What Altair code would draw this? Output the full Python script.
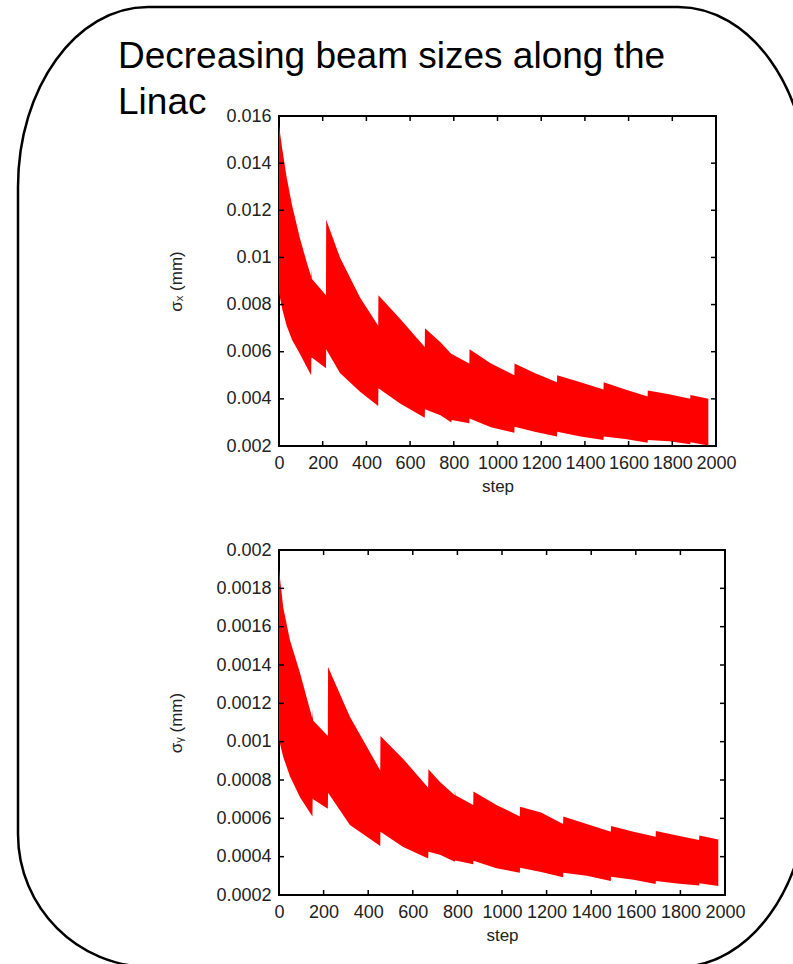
import altair as alt
import pandas as pd

# ---------------- data ----------------
title_lines = ["Decreasing beam sizes along the", "Linac"]

x_ticks = [0, 200, 400, 600, 800, 1000, 1200, 1400, 1600, 1800, 2000]

sx_steps = [0, 15, 35, 60, 96, 130, 147, 148, 150, 215, 216, 279, 371, 454, 455, 554,
            667, 668, 739, 789, 790, 871, 872, 970, 1077, 1078, 1170, 1272, 1273, 1380,
            1485, 1486, 1585, 1687, 1688, 1785, 1882, 1883, 1965]
sx_upper = [0.0156, 0.0146, 0.0134, 0.0122, 0.0108, 0.0097, 0.0092, 0.0095, 0.0091, 0.0084,
            0.0116, 0.0100, 0.0083, 0.0071, 0.0084, 0.0074, 0.0062, 0.0070, 0.0064, 0.0059,
            0.0059, 0.0055, 0.0061, 0.0055, 0.0050, 0.0055, 0.0051, 0.0047, 0.0050, 0.0047,
            0.0044, 0.0047, 0.0044, 0.0041, 0.00435, 0.0042, 0.0040, 0.00416, 0.0040]
sx_lower = [0.0085, 0.0078, 0.0071, 0.0065, 0.0059, 0.0053, 0.0050, 0.0057, 0.00575, 0.0053,
            0.0061, 0.0051, 0.0043, 0.0037, 0.00445, 0.0038, 0.0032, 0.00356, 0.0033, 0.0030,
            0.0031, 0.00296, 0.00317, 0.0028, 0.00256, 0.00282, 0.0026, 0.0024, 0.0026, 0.0024,
            0.00225, 0.0024, 0.0023, 0.00214, 0.00225, 0.0022, 0.00207, 0.00216, 0.00202]
sx_yticks = [0.002, 0.004, 0.006, 0.008, 0.01, 0.012, 0.014, 0.016]

sy_steps = [0, 19, 49, 94, 150, 151, 153, 219, 220, 318, 454, 455, 557, 669, 670, 722, 788,
            789, 791, 871, 872, 975, 1080, 1081, 1175, 1274, 1275, 1380, 1488, 1489, 1590,
            1689, 1690, 1785, 1884, 1885, 1970]
sy_upper = [0.00190, 0.00170, 0.00153, 0.00136, 0.00112, 0.00117, 0.00111, 0.00103, 0.00139,
            0.00113, 0.00085, 0.00103, 0.00091, 0.00076, 0.000856, 0.00079, 0.00072, 0.00075,
            0.00072, 0.00067, 0.00074, 0.00067, 0.00061, 0.00066, 0.00063, 0.00057, 0.00061,
            0.00057, 0.00053, 0.00056, 0.00053, 0.000504, 0.000534, 0.00051, 0.000487,
            0.00051, 0.00049]
sy_lower = [0.00101, 0.00092, 0.00082, 0.00071, 0.00061, 0.000705, 0.0007, 0.00065, 0.000734,
            0.000565, 0.000456, 0.00053, 0.00045, 0.00039, 0.000426, 0.00041, 0.000374,
            0.00038, 0.00038, 0.00036, 0.000379, 0.00034, 0.000316, 0.000342, 0.00032,
            0.000292, 0.000316, 0.0003, 0.000273, 0.000295, 0.00028, 0.000257, 0.000273,
            0.00026, 0.000249, 0.000261, 0.000247]
sy_yticks = [0.0002, 0.0004, 0.0006, 0.0008, 0.001, 0.0012, 0.0014, 0.0016, 0.0018, 0.002]

FONT = "Liberation Sans"
RED = "#ff0000"

# rounded slide frame (decoration), pixels relative to the top plot's origin;
# its right and bottom sides run past the page and are cut off there
frame_path = ("M -131 -109 L 399 -109 A 130 180 0 0 1 529 71 L 529 671 "
              "A 130 180 0 0 1 399 851 L -128 851 A 133 133 0 0 1 -261 718 "
              "L -261 71 A 130 180 0 0 1 -131 -109 Z")


def panel(steps, upper, lower, yticks, ytitle, W, H, title_pad):
    df = pd.DataFrame({"step": steps, "upper": upper, "lower": lower})
    xs = alt.Scale(domain=[x_ticks[0], x_ticks[-1]], nice=False, zero=False)
    ys = alt.Scale(domain=[yticks[0], yticks[-1]], nice=False, zero=False)
    xax = alt.Axis(values=x_ticks, format="d", title="step", labelPadding=8,
                   titlePadding=6, titleFontSize=17, labelFlush=False)
    yax = alt.Axis(values=yticks, format="~g", title=ytitle, labelPadding=8,
                   titlePadding=title_pad, titleFontSize=17)
    area = alt.Chart(df).mark_area(color=RED, interpolate="linear", opacity=1).encode(
        x=alt.X("step:Q", scale=xs, axis=xax),
        y=alt.Y("upper:Q", scale=ys, axis=yax),
        y2="lower:Q",
    )
    xt = pd.DataFrame({"step": x_ticks[1:-1]})
    yt = pd.DataFrame({"upper": yticks[1:-1]})
    rk = dict(color="black", strokeWidth=1.5)
    tb = alt.Chart(xt).mark_rule(**rk).encode(
        x=alt.X("step:Q", scale=xs, axis=xax), y=alt.value(H), y2=alt.value(H - 5))
    tt = alt.Chart(xt).mark_rule(**rk).encode(
        x=alt.X("step:Q", scale=xs, axis=xax), y=alt.value(0), y2=alt.value(5))
    tl = alt.Chart(yt).mark_rule(**rk).encode(
        y=alt.Y("upper:Q", scale=ys, axis=yax), x=alt.value(0), x2=alt.value(5))
    tr = alt.Chart(yt).mark_rule(**rk).encode(
        y=alt.Y("upper:Q", scale=ys, axis=yax), x=alt.value(W), x2=alt.value(W - 5))
    return [area, tb, tt, tl, tr]


one = alt.Data(values=[{}])
frame = alt.Chart(one).mark_point(
    shape=frame_path, size=4, filled=False, stroke="black", strokeWidth=2.5, opacity=1
).encode(x=alt.value(0), y=alt.value(0))
tkw = dict(align="left", baseline="alphabetic", font=FONT, fontSize=37, color="black")
title1 = alt.Chart(one).mark_text(text=title_lines[0], **tkw).encode(
    x=alt.value(-161), y=alt.value(-48))
title2 = alt.Chart(one).mark_text(text=title_lines[1], **tkw).encode(
    x=alt.value(-161), y=alt.value(-2))

top = alt.layer(*panel(sx_steps, sx_upper, sx_lower, sx_yticks, "σₓ (mm)", 437, 330, 40),
                title1, title2, frame).properties(width=437, height=330)
bottom = alt.layer(*panel(sy_steps, sy_upper, sy_lower, sy_yticks, "σᵧ (mm)", 446, 345, 30)
                   ).properties(width=446, height=345)

chart = alt.vconcat(top, bottom, spacing=104, bounds="flush").properties(
    autosize=alt.AutoSizeParams(type="none"),
    padding={"left": 279, "top": 116, "right": 514, "bottom": 848},
    background="white",
).configure_view(stroke="black", strokeWidth=2).configure_axis(
    domain=False, ticks=False, grid=False, labelFont=FONT, labelFontSize=18,
    labelColor="#222", titleFont=FONT, titleFontWeight="normal", titleColor="#222",
)

chart.save("out.html", embed_options={"renderer": "svg", "actions": False})
